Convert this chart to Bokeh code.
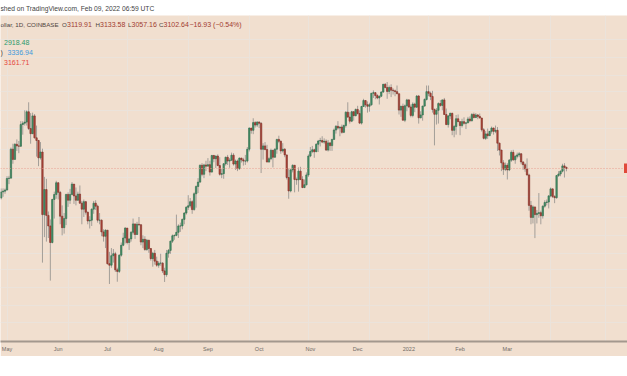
import pandas as pd
from bokeh.plotting import figure
from bokeh.models import Range1d, FixedTicker, Span, Label, BoxAnnotation
from bokeh.layouts import column
from bokeh.embed import file_html
from bokeh.resources import INLINE

# ---------------- data (ETH/USD daily) ----------------
start_date = "2021-04-28"
first_open = 2660.0
last_open = 3119.91

closes = [
    2746, 2757, 2773, 2945, 2950, 3431, 3253, 3520, 3490, 3484,
    3902, 3928, 3950, 4168, 3820, 3720, 4080, 3640, 3590, 3280,
    3380, 2440, 2780, 2430, 2300, 2110, 2640, 2710, 2880, 2740,
    2420, 2280, 2390, 2710, 2630, 2710, 2860, 2690, 2630, 2715,
    2590, 2510, 2610, 2470, 2360, 2370, 2510, 2590, 2550, 2370,
    2370, 2230, 2180, 2250, 1890, 1875, 1970, 1990, 1830, 1815,
    1975, 2080, 2160, 2275, 2110, 2150, 2225, 2325, 2200, 2320,
    2315, 2115, 2145, 2035, 2135, 2045, 1940, 1995, 1915, 1875,
    1895, 1895, 1820, 1785, 1995, 2025, 2125, 2185, 2190, 2225,
    2300, 2300, 2380, 2460, 2535, 2555, 2610, 2505, 2720, 2825,
    2890, 3155, 3010, 3160, 3140, 3165, 3045, 3320, 3265, 3310,
    3150, 3010, 3020, 3180, 3290, 3225, 3240, 3325, 3175, 3225,
    3100, 3275, 3245, 3225, 3225, 3430, 3830, 3785, 3940, 3890,
    3950, 3925, 3430, 3490, 3425, 3210, 3265, 3410, 3290, 3430,
    3610, 3575, 3400, 3430, 3330, 2960, 2760, 3080, 3155, 2930,
    2925, 3060, 2930, 2810, 2850, 3000, 3310, 3390, 3420, 3385,
    3520, 3580, 3590, 3560, 3575, 3415, 3545, 3495, 3610, 3790,
    3865, 3830, 3850, 3745, 3880, 4160, 4055, 3970, 4170, 4085,
    4220, 4130, 3930, 4285, 4420, 4325, 4290, 4325, 4590, 4605,
    4535, 4480, 4520, 4620, 4810, 4730, 4635, 4730, 4665, 4650,
    4630, 4580, 4205, 4290, 3990, 4300, 4435, 4275, 4090, 4340,
    4270, 4525, 4040, 4100, 4295, 4445, 4630, 4590, 4515, 4220,
    4115, 4200, 4350, 4310, 4435, 4110, 3900, 4080, 4135, 3785,
    3860, 4020, 3960, 3880, 3960, 3925, 3935, 4015, 3980, 4110,
    4045, 4100, 4070, 4035, 3795, 3630, 3715, 3680, 3765, 3830,
    3765, 3785, 3540, 3415, 3195, 3090, 3155, 3080, 3240, 3375,
    3245, 3305, 3330, 3350, 3210, 3165, 3095, 3000, 2560, 2405,
    2540, 2440, 2455, 2465, 2425, 2550, 2600, 2605, 2690, 2790,
    2680, 2665, 2990, 3015, 3060, 3145, 3120, 3102.64,
]

highs = [
    2796, 2797, 2795, 2980, 2985, 3460, 3530, 3540, 3610, 3580,
    3970, 3970, 4200, 4200, 4380, 4140, 4150, 4120, 3880, 3600,
    3560, 3440, 2970, 2940, 2480, 2380, 2650, 2750, 2910, 2890,
    2760, 2560, 2460, 2720, 2740, 2790, 2890, 2860, 2810, 2750,
    2840, 2620, 2640, 2620, 2480, 2420, 2520, 2620, 2630, 2570,
    2460, 2380, 2260, 2260, 2250, 2010, 2050, 2040, 2010, 1850,
    1985, 2110, 2220, 2285, 2275, 2155, 2240, 2390, 2325, 2350,
    2410, 2320, 2190, 2180, 2150, 2140, 2050, 2010, 2030, 1960,
    1915, 1990, 1905, 1850, 2030, 2040, 2130, 2200, 2200, 2440,
    2320, 2340, 2390, 2470, 2550, 2700, 2660, 2630, 2740, 2840,
    2950, 3170, 3190, 3180, 3230, 3275, 3230, 3330, 3330, 3320,
    3340, 3290, 3100, 3190, 3300, 3330, 3275, 3370, 3360, 3250,
    3250, 3285, 3280, 3280, 3330, 3470, 3840, 3830, 4030, 3970,
    3970, 3970, 3950, 3540, 3560, 3510, 3290, 3440, 3420, 3450,
    3620, 3680, 3590, 3540, 3450, 3330, 3100, 3100, 3170, 3160,
    2960, 3120, 3130, 2980, 2930, 3040, 3340, 3470, 3490, 3440,
    3540, 3600, 3640, 3670, 3630, 3610, 3600, 3560, 3620, 3820,
    3890, 3970, 3860, 3900, 3900, 4180, 4380, 4160, 4190, 4180,
    4240, 4300, 4200, 4300, 4460, 4420, 4400, 4370, 4600, 4660,
    4620, 4570, 4540, 4640, 4820, 4840, 4868, 4780, 4810, 4710,
    4680, 4780, 4580, 4300, 4350, 4330, 4460, 4450, 4330, 4380,
    4370, 4550, 4550, 4180, 4300, 4470, 4780, 4780, 4630, 4650,
    4240, 4250, 4380, 4430, 4440, 4480, 4240, 4100, 4150, 4150,
    3890, 4100, 4110, 3970, 4020, 4050, 3950, 4060, 4070, 4140,
    4150, 4140, 4120, 4130, 4040, 3830, 3770, 3820, 3770, 3860,
    3840, 3880, 3850, 3550, 3420, 3240, 3200, 3190, 3260, 3410,
    3420, 3330, 3370, 3380, 3360, 3220, 3190, 3270, 3020, 2620,
    2560, 2540, 2500, 2730, 2490, 2560, 2630, 2640, 2700, 2810,
    2800, 2700, 3000, 3060, 3070, 3180, 3190, 3133.58,
]

lows = [
    2640, 2677, 2720, 2770, 2860, 2950, 3180, 3250, 3400, 3360,
    3470, 3700, 3880, 3880, 3790, 3530, 3710, 3625, 3300, 3140,
    3250, 1900, 2170, 2120, 2160, 1730, 2100, 2390, 2650, 2640,
    2320, 2190, 2210, 2310, 2540, 2580, 2700, 2580, 2560, 2620,
    2580, 2320, 2410, 2440, 2320, 2270, 2300, 2450, 2500, 2340,
    2320, 2180, 2120, 2050, 1880, 1700, 1850, 1900, 1810, 1720,
    1800, 1960, 2070, 2100, 2090, 2030, 2120, 2200, 2150, 2195,
    2300, 2080, 2050, 2020, 2020, 2000, 1920, 1860, 1880, 1860,
    1850, 1870, 1800, 1718, 1765, 1950, 1990, 2105, 2140, 2180,
    2160, 2230, 2260, 2320, 2440, 2500, 2530, 2450, 2490, 2530,
    2730, 2880, 2980, 2950, 3060, 3140, 2990, 3040, 3205, 3110,
    3140, 2990, 2950, 2940, 3150, 3160, 3115, 3230, 3150, 3080,
    3060, 3080, 3200, 3150, 3160, 3200, 3390, 3720, 3710, 3840,
    3850, 3830, 3030, 3250, 3410, 3200, 3195, 3240, 3120, 3280,
    3350, 3540, 3350, 3370, 3290, 2930, 2650, 2740, 3040, 2740,
    2850, 2750, 2920, 2800, 2800, 2840, 2970, 3290, 3360, 3280,
    3380, 3380, 3480, 3540, 3530, 3400, 3390, 3400, 3400, 3600,
    3720, 3800, 3670, 3720, 3730, 3840, 4040, 3920, 3950, 3980,
    4070, 4110, 3910, 3900, 4280, 4260, 4150, 4170, 4300, 4480,
    4450, 4450, 4330, 4500, 4600, 4710, 4460, 4570, 4500, 4560,
    4520, 4570, 4110, 4060, 3980, 3950, 4180, 4250, 4050, 4050,
    4160, 4250, 3920, 4030, 3980, 4280, 4420, 4520, 4430, 4150,
    3500, 3900, 3920, 4280, 4200, 4100, 3890, 3840, 4010, 3690,
    3650, 3700, 3950, 3690, 3840, 3900, 3810, 3930, 3950, 3960,
    4030, 4040, 4010, 4030, 3760, 3610, 3600, 3620, 3680, 3720,
    3700, 3730, 3400, 3320, 3060, 3000, 3060, 2930, 3060, 3210,
    3230, 3180, 3270, 3290, 3170, 3080, 3050, 2990, 2490, 2320,
    2330, 2159, 2330, 2400, 2320, 2390, 2530, 2560, 2520, 2670,
    2660, 2590, 2650, 2970, 2980, 3040, 2960, 3057.16,
]

# bottom axis labels (as placed in the picture, in bar units)
month_labels = ["May", "Jun", "Jul", "Aug", "Sep", "Oct", "Nov", "Dec", "2022", "Feb", "Mar"]
label_bars = [3, 29, 54, 80, 105, 131, 157, 181, 207, 233, 257]

# horizontal grid levels (log price scale)
grid_prices = [6075, 5540, 5036, 4626, 4197, 3821, 3425, 2960, 2686, 2400,
               2189, 1993, 1834, 1667, 1522, 1389]

last_price = 3102.64
ma_values = ["2918.48", "3336.94", "3161.71"]

# ---------------- derived ----------------
N = len(closes)
opens = [first_open] + closes[:-1]
opens[-1] = last_open
bars = list(range(N))
dates = pd.date_range(start_date, periods=N, freq="D")
month_start_bars = [i for i, d in enumerate(dates) if d.day == 1]
month_start_bars.append((pd.Timestamp("2022-03-01") - dates[0]).days)

UP_FILL, UP_LINE = "#45936a", "#2f6a4a"
DN_FILL, DN_LINE = "#b2473a", "#7e2e25"
WICK = "#a39e98"
BG = "#f1dfcf"
GRID = "#ebe3db"

up = [c >= o for o, c in zip(opens, closes)]
fills = [UP_FILL if u else DN_FILL for u in up]
lines = [UP_LINE if u else DN_LINE for u in up]
tops = [max(o, c) for o, c in zip(opens, closes)]
bottoms = [min(o, c) for o, c in zip(opens, closes)]

FONT = "Liberation Sans"

# log-scale calibration of the picture (frame 326 px tall)
P_TOP, P_BOT = 6883.0, 1260.0


def price_at(ref_y):
    """price at a vertical pixel position of the frame (0 = top of frame)."""
    return P_BOT * (P_TOP / P_BOT) ** ((326 - ref_y) / 326)


# ---------------- header strip ----------------
head = figure(frame_width=627, frame_height=15, x_range=(0, 1), y_range=(0, 1),
              toolbar_location=None, output_backend="svg", min_border=0,
              outline_line_color=None, background_fill_color="white",
              border_fill_color="white")
head.axis.visible = False
head.grid.visible = False
head.add_layout(Label(x=0, y=0.45, x_units="screen", text="shed on TradingView.com, Feb 09, 2022 06:59 UTC",
                      text_font=FONT, text_font_size="6.7px", text_color="#3f3f3f",
                      text_baseline="middle"))

# ---------------- main chart ----------------
p = figure(frame_width=627, frame_height=326, x_range=Range1d(-0.3, 318.0),
           y_range=Range1d(P_BOT, P_TOP), y_axis_type="log",
           toolbar_location=None, output_backend="svg",
           min_border_left=0, min_border_right=0, min_border_top=0, min_border_bottom=15,
           background_fill_color=BG, border_fill_color=BG, outline_line_color=None)

p.yaxis.visible = False
p.ygrid.ticker = FixedTicker(ticks=grid_prices)
p.xgrid.ticker = FixedTicker(ticks=month_start_bars)
p.grid.grid_line_color = GRID
p.grid.grid_line_width = 1

p.xaxis.ticker = FixedTicker(ticks=label_bars)
p.xaxis.major_label_overrides = {b: t for b, t in zip(label_bars, month_labels)}
p.xaxis.axis_line_color = "#a3988e"
p.xaxis.axis_line_width = 2
p.xaxis.major_tick_line_color = None
p.xaxis.minor_tick_line_color = None
p.xaxis.major_tick_out = 0
p.xaxis.major_tick_in = 0
p.xaxis.minor_tick_out = 0
p.xaxis.minor_tick_in = 0
p.xaxis.major_label_text_font = FONT
p.xaxis.major_label_text_font_size = "5.5px"
p.xaxis.major_label_text_color = "#6f6a66"
p.xaxis.major_label_standoff = 4

p.add_layout(Span(location=last_price, dimension="width", line_color="#e9a092",
                  line_dash="1 2", line_width=1))

p.segment(x0=bars, y0=highs, x1=bars, y1=lows, line_color=WICK, line_width=1)
p.vbar(x=bars, width=0.72, top=tops, bottom=bottoms, fill_color=fills, line_color=lines, line_width=0.6)


def txt(x, ref_y, text, color, size="7px"):
    p.add_layout(Label(x=x, y=price_at(ref_y), x_units="screen", text=text, text_font=FONT,
                       text_font_size=size, text_color=color, text_baseline="middle"))


NUM = "#a13b2f"
LAB = "#4f4540"
txt(0, 9, "ollar, 1D, COINBASE", LAB, "6.2px")
txt(61.5, 9, "O", LAB, "6.2px")
txt(66.5, 9, f"{last_open:.2f}", NUM)
txt(95, 9, "H", LAB, "6.2px")
txt(99.5, 9, "3133.58", NUM)
txt(127.5, 9, "L", LAB, "6.2px")
txt(131, 9, "3057.16", NUM)
txt(158.5, 9, "C", LAB, "6.2px")
txt(163, 9, f"{last_price:.2f}", NUM)
txt(189, 9, "\u221216.93 (\u22120.54%)", NUM)
txt(3.5, 27, ma_values[0], "#2a9a6c")
txt(0, 37, ")", LAB)
txt(7, 37, ma_values[1], "#3c9ade")
txt(3.5, 46.5, ma_values[2], "#e5463b")

# price tag at the right edge (mostly cut off in the picture)
p.add_layout(BoxAnnotation(left=623.5, right=627, left_units="screen", right_units="screen",
                           top=price_at(148), bottom=price_at(157.5),
                           fill_color="#e04a3a", fill_alpha=1.0, line_color=None))

layout = column(head, p, spacing=0)
open("out.html", "w").write(file_html(layout, INLINE))
